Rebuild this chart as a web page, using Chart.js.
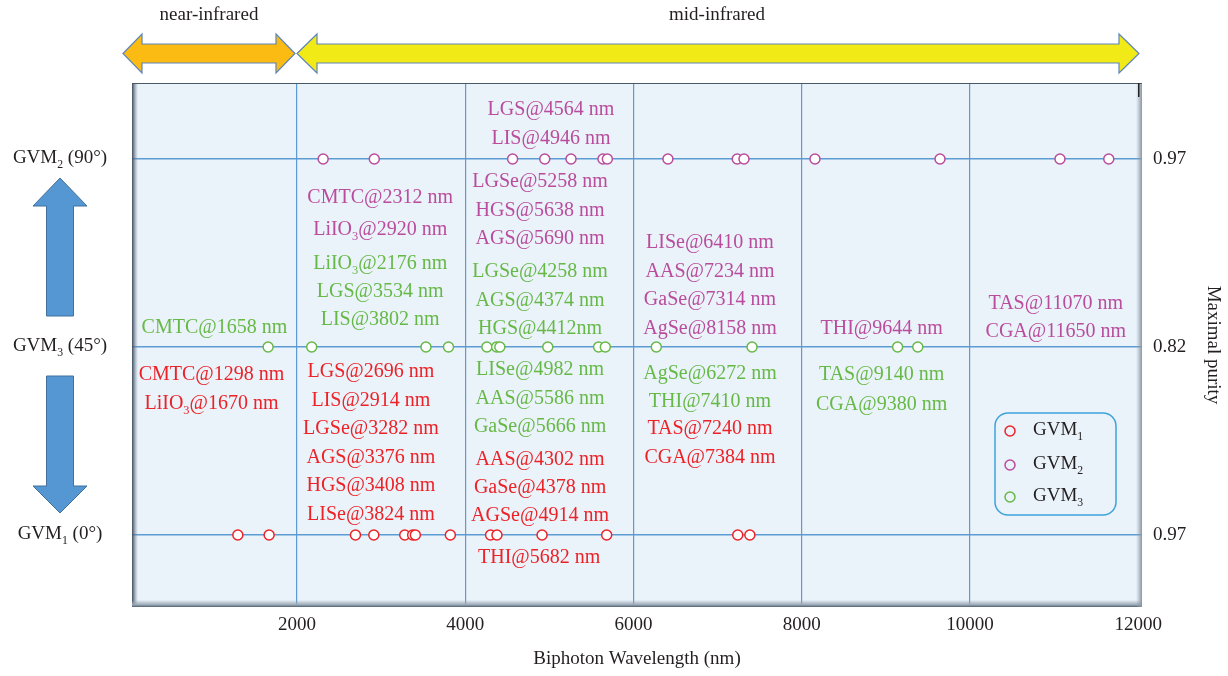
<!DOCTYPE html>
<html lang="en">
<head>
    <meta charset="UTF-8">
    <title>GVM biphoton wavelengths</title>
    <style>
        body { margin: 0; background: #fff; }
        canvas { display: block; }
    </style>
</head>
<body>
    <canvas id="gvmChart" width="1228" height="676"></canvas>

    <script src="https://cdn.jsdelivr.net/npm/chart.js"></script>
    <script>
        // crystals and their biphoton wavelengths (nm) for each GVM condition
        const crystalsGVM1 = ['CMTC', 'LiIO_3', 'LGS', 'LIS', 'LGSe', 'AGS', 'HGS', 'LISe', 'AAS', 'GaSe', 'AGSe', 'THI', 'TAS', 'CGA'];
        const wavelengthsGVM1 = [1298, 1670, 2696, 2914, 3282, 3376, 3408, 3824, 4302, 4378, 4914, 5682, 7240, 7384];

        const crystalsGVM2 = ['LGS', 'LIS', 'CMTC', 'LiIO_3', 'LGSe', 'HGS', 'AGS', 'LISe', 'AAS', 'GaSe', 'AgSe', 'THI', 'TAS', 'CGA'];
        const wavelengthsGVM2 = [4564, 4946, 2312, 2920, 5258, 5638, 5690, 6410, 7234, 7314, 8158, 9644, 11070, 11650];

        const crystalsGVM3 = ['CMTC', 'LiIO_3', 'LGS', 'LIS', 'LGSe', 'AGS', 'HGS', 'LISe', 'AAS', 'GaSe', 'AgSe', 'THI', 'TAS', 'CGA'];
        const wavelengthsGVM3 = [1658, 2176, 3534, 3802, 4258, 4374, 4412, 4982, 5586, 5666, 6272, 7410, 9140, 9380];

        // row of each condition on the vertical axis (0 = bottom)
        const modeNames = ['GVM_1', 'GVM_2', 'GVM_3'];
        const modeAngles = ['0°', '90°', '45°'];
        const modeRows = [0, 2, 1];
        const purityTicks = ['0.97', '0.82', '0.97'];   // right axis, rows 0,1,2
        const xTicks = [2000, 4000, 6000, 8000, 10000, 12000];

        const colors = ['#ec2227', '#b94c9c', '#66b946'];
        const gridBlue = '#5d9bd3';
        const serif = "'Liberation Serif', 'DejaVu Serif', serif";

        const crystalLists = [crystalsGVM1, crystalsGVM2, crystalsGVM3];
        const wavelengthLists = [wavelengthsGVM1, wavelengthsGVM2, wavelengthsGVM3];

        // where the text blocks go: series index, crystals, x (nm), y of first line (row units), line gap (px)
        const labelBlocks = [
            { s: 1, names: ['LGS', 'LIS'], x: 5020, y: 2.27, gap: 29 },
            { s: 1, names: ['CMTC', 'LiIO_3'], x: 2990, y: 1.80, gap: 32 },
            { s: 2, names: ['LiIO_3', 'LGS', 'LIS'], x: 2990, y: 1.45, gap: 28 },
            { s: 0, names: ['LGS', 'LIS', 'LGSe', 'AGS', 'HGS', 'LISe'], x: 2880, y: 0.875, gap: 28.6 },
            { s: 1, names: ['LGSe', 'HGS', 'AGS'], x: 4890, y: 1.885, gap: 28.5 },
            { s: 2, names: ['LGSe', 'AGS', 'HGS'], x: 4890, y: 1.405, gap: 28.5, tight: ['HGS'] },
            { s: 2, names: ['LISe', 'AAS', 'GaSe'], x: 4890, y: 0.885, gap: 28.5 },
            { s: 0, names: ['AAS', 'GaSe', 'AGSe'], x: 4890, y: 0.41, gap: 28 },
            { s: 0, names: ['THI'], x: 4880, y: -0.115, gap: 28 },
            { s: 1, names: ['LISe', 'AAS', 'GaSe', 'AgSe'], x: 6910, y: 1.56, gap: 28.5 },
            { s: 2, names: ['AgSe', 'THI'], x: 6910, y: 0.865, gap: 28.5 },
            { s: 0, names: ['TAS', 'CGA'], x: 6910, y: 0.57, gap: 29 },
            { s: 1, names: ['THI'], x: 8950, y: 1.105, gap: 28 },
            { s: 2, names: ['TAS', 'CGA'], x: 8950, y: 0.86, gap: 30 },
            { s: 1, names: ['TAS', 'CGA'], x: 11020, y: 1.235, gap: 28 },
            { s: 2, names: ['CMTC'], x: 1020, y: 1.11, gap: 28 },
            { s: 0, names: ['CMTC', 'LiIO_3'], x: 985, y: 0.862, gap: 29 }
        ];

        // draw text where "_x" means subscript x
        function drawRich(ctx, str, x, y, size, color, align) {
            const parts = str.split(/_(\w)/);
            const subSize = size * 0.62;
            let width = 0;
            parts.forEach((p, i) => {
                ctx.font = (i % 2 ? subSize : size) + 'px ' + serif;
                width += ctx.measureText(p).width;
            });
            let cx = align === 'center' ? x - width / 2 : (align === 'right' ? x - width : x);
            const base = y + size * 0.33;
            ctx.fillStyle = color;
            ctx.textAlign = 'left';
            ctx.textBaseline = 'alphabetic';
            parts.forEach((p, i) => {
                const sub = i % 2 === 1;
                ctx.font = (sub ? subSize : size) + 'px ' + serif;
                ctx.fillText(p, cx, sub ? base + size * 0.25 : base);
                cx += ctx.measureText(p).width;
            });
        }

        function hArrow(ctx, x1, x2, yc, shaft, head, len, fill) {
            ctx.beginPath();
            ctx.moveTo(x1, yc);
            ctx.lineTo(x1 + len, yc - head);
            ctx.lineTo(x1 + len, yc - shaft);
            ctx.lineTo(x2 - len, yc - shaft);
            ctx.lineTo(x2 - len, yc - head);
            ctx.lineTo(x2, yc);
            ctx.lineTo(x2 - len, yc + head);
            ctx.lineTo(x2 - len, yc + shaft);
            ctx.lineTo(x1 + len, yc + shaft);
            ctx.lineTo(x1 + len, yc + head);
            ctx.closePath();
            ctx.fillStyle = fill;
            ctx.fill();
            ctx.strokeStyle = '#5f86b8';
            ctx.lineWidth = 1.2;
            ctx.stroke();
        }

        function vArrow(ctx, xc, tipY, baseY, endY, shaft, head) {
            ctx.beginPath();
            ctx.moveTo(xc, tipY);
            ctx.lineTo(xc + head, baseY);
            ctx.lineTo(xc + shaft, baseY);
            ctx.lineTo(xc + shaft, endY);
            ctx.lineTo(xc - shaft, endY);
            ctx.lineTo(xc - shaft, baseY);
            ctx.lineTo(xc - head, baseY);
            ctx.closePath();
            ctx.fillStyle = '#5597d2';
            ctx.fill();
            ctx.strokeStyle = '#41719c';
            ctx.lineWidth = 1;
            ctx.stroke();
        }

        const decorPlugin = {
            id: 'decor',
            beforeDraw(chart) {
                const { ctx, chartArea: a } = chart;
                ctx.save();
                ctx.fillStyle = '#eaf2fa';
                ctx.fillRect(a.left, a.top, a.right - a.left, a.bottom - a.top);
                ctx.restore();
            },
            afterDatasetsDraw(chart) {
                const { ctx, chartArea: a } = chart;
                const xs = chart.scales.x, ys = chart.scales.y;
                ctx.save();

                // frame shading
                let g = ctx.createLinearGradient(a.left, 0, a.left + 6, 0);
                g.addColorStop(0, '#3e4a5a');
                g.addColorStop(1, 'rgba(120,140,160,0)');
                ctx.fillStyle = g;
                ctx.fillRect(a.left, a.top, 6, a.bottom - a.top);
                g = ctx.createLinearGradient(0, a.bottom - 7, 0, a.bottom);
                g.addColorStop(0, 'rgba(150,165,180,0)');
                g.addColorStop(0.7, '#9aa6b2');
                g.addColorStop(1, '#4e5e70');
                ctx.fillStyle = g;
                ctx.fillRect(a.left, a.bottom - 7, a.right - a.left, 7);
                g = ctx.createLinearGradient(a.right - 6, 0, a.right, 0);
                g.addColorStop(0, 'rgba(150,165,180,0)');
                g.addColorStop(1, '#8a96a4');
                ctx.fillStyle = g;
                ctx.fillRect(a.right - 6, a.top, 6, a.bottom - a.top);
                ctx.strokeStyle = '#4a5868';
                ctx.lineWidth = 1;
                ctx.beginPath();
                ctx.moveTo(a.left, a.top + 0.5);
                ctx.lineTo(a.right, a.top + 0.5);
                ctx.stroke();
                ctx.fillStyle = '#222';
                ctx.fillRect(a.right - 4, a.top, 1.5, 14);

                // crystal labels
                labelBlocks.forEach(b => {
                    const wl = wavelengthLists[b.s];
                    const cr = crystalLists[b.s];
                    const px = xs.getPixelForValue(b.x);
                    const py = ys.getPixelForValue(b.y);
                    b.names.forEach((n, i) => {
                        const sep = (b.tight && b.tight.includes(n)) ? 'nm' : ' nm';
                        const txt = n + '@' + wl[cr.indexOf(n)] + sep;
                        drawRich(ctx, txt, px, py + i * b.gap, 20, colors[b.s], 'center');
                    });
                });

                // legend box
                const lx = 995, ly = 413, lw = 121, lh = 102;
                ctx.beginPath();
                ctx.roundRect(lx, ly, lw, lh, 13);
                ctx.strokeStyle = '#3ea3dc';
                ctx.lineWidth = 1.5;
                ctx.stroke();
                const legendY = [431, 465, 497];
                modeNames.forEach((m, i) => {
                    ctx.beginPath();
                    ctx.arc(1010, legendY[i], 5, 0, Math.PI * 2);
                    ctx.strokeStyle = colors[i];
                    ctx.lineWidth = 1.5;
                    ctx.stroke();
                    drawRich(ctx, m, 1033, legendY[i] - 2, 19, '#231f20', 'left');
                });
                ctx.restore();
            },
            afterDraw(chart) {
                const { ctx } = chart;
                const ys = chart.scales.y;
                ctx.save();
                // spectral region arrows
                hArrow(ctx, 123, 295, 53.5, 9.5, 19.5, 19, '#fbbb12');
                hArrow(ctx, 297, 1139, 53.5, 9.5, 19.5, 20, '#f2ea17');
                drawRich(ctx, 'near-infrared', 209, 14, 19, '#231f20', 'center');
                drawRich(ctx, 'mid-infrared', 717, 14, 19, '#231f20', 'center');

                // left side row labels and arrows
                modeNames.forEach((m, i) => {
                    const py = ys.getPixelForValue(modeRows[i]);
                    drawRich(ctx, m + ' (' + modeAngles[i] + ')', 60, py - 2, 19, '#231f20', 'center');
                });
                vArrow(ctx, 60, 178, 206, 316, 13.5, 27);
                vArrow(ctx, 60, 513, 486, 376, 13.5, 27);
                ctx.restore();
            }
        };

        const datasets = modeNames.map((m, i) => ({
            label: m,
            data: wavelengthLists[i].map(w => ({ x: w, y: modeRows[i] })),
            borderColor: colors[i],
            backgroundColor: '#ffffff',
            pointRadius: 5,
            pointBorderWidth: 1.5,
            showLine: false
        }));

        const ctx = document.getElementById('gvmChart').getContext('2d');
        const gvmChart = new Chart(ctx, {
            type: 'scatter',
            data: { datasets },
            options: {
                responsive: false,
                animation: false,
                layout: { padding: { left: 132, top: 83, right: 0, bottom: 0 } },
                plugins: {
                    legend: { display: false },
                    tooltip: { enabled: false }
                },
                scales: {
                    x: {
                        type: 'linear',
                        min: 40,
                        max: 12045,
                        afterBuildTicks: s => { s.ticks = xTicks.map(v => ({ value: v })); },
                        afterFit: s => { s.height = 69; },
                        ticks: {
                            callback: v => String(v),
                            font: { family: serif, size: 19 },
                            color: '#231f20',
                            padding: 7,
                            maxRotation: 0
                        },
                        grid: {
                            color: c => (c.tick.value === 12000) ? 'rgba(0,0,0,0)' : gridBlue,
                            lineWidth: 1.2,
                            drawTicks: false
                        },
                        border: { display: false },
                        title: {
                            display: true,
                            text: 'Biphoton Wavelength (nm)',
                            font: { family: serif, size: 19 },
                            color: '#231f20',
                            padding: { top: 0, bottom: 6 }
                        }
                    },
                    y: {
                        type: 'linear',
                        position: 'right',
                        min: -0.383,
                        max: 2.404,
                        afterBuildTicks: s => { s.ticks = [0, 1, 2].map(v => ({ value: v })); },
                        afterFit: s => { s.width = 86; },
                        ticks: {
                            callback: v => purityTicks[v],
                            font: { family: serif, size: 19 },
                            color: '#231f20',
                            padding: 11
                        },
                        grid: { color: gridBlue, lineWidth: 1.5, drawTicks: false },
                        border: { display: false },
                        title: {
                            display: true,
                            text: 'Maximal purity',
                            font: { family: serif, size: 19 },
                            color: '#231f20',
                            padding: { top: 4, bottom: 10 }
                        }
                    }
                }
            },
            plugins: [decorPlugin]
        });
    </script>
</body>
</html>
